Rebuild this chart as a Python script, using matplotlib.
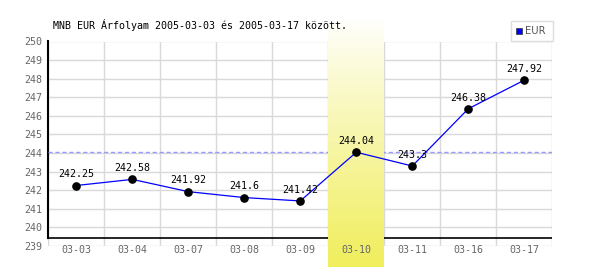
import numpy as np
import matplotlib
matplotlib.use("Agg")
import matplotlib.pyplot as plt

# MNB EUR exchange rate, 2005-03-03 .. 2005-03-17
dates = ["03-03", "03-04", "03-07", "03-08", "03-09", "03-10", "03-11", "03-16", "03-17"]
rates = [242.25, 242.58, 241.92, 241.6, 241.42, 244.04, 243.3, 246.38, 247.92]
value_labels = ["242.25", "242.58", "241.92", "241.6", "241.42", "244.04", "243.3", "246.38", "247.92"]
highlight_idx = 5
ref_level = 244.04
y_ticks = list(range(239, 251))

plt.rcParams['font.family'] = ['DejaVu Sans Mono', 'DejaVu Sans']
FS = 7.2

fig = plt.figure(figsize=(6, 2.7), dpi=100)
W, H = 600, 270
left, right = 48.3, 552.3
top_px, bot_px = 41.5, 245.9
ax = fig.add_axes([left / W, (H - bot_px) / H, (right - left) / W, (bot_px - top_px) / H])

n = len(dates)
x = np.arange(n)

for s in ax.spines.values():
    s.set_visible(False)

# grid
for yv in y_ticks:
    ax.axhline(yv, color="#d9d9d9", lw=1, zorder=0.5)
for xv in np.arange(-0.5, n, 1.0):
    ax.axvline(xv, color="#d9d9d9", lw=1, zorder=0.5)

# axis lines
axis_y = 239.43
ax.axhline(axis_y, color="black", lw=1.2, zorder=1)
ax.plot([-0.5, -0.5], [axis_y, 250], color="black", lw=1.5, zorder=1, clip_on=False)

# reference dashed line
ax.axhline(ref_level, color="#9999ff", lw=1, ls=(0, (3, 2)), zorder=1)

# highlight band with vertical gradient
grad = np.linspace(0, 1, 256).reshape(-1, 1)
top_c = np.array([1.0, 1.0, 1.0])
bot_c = np.array([240, 238, 92]) / 255.0
img = top_c + (bot_c - top_c) * grad[..., None] ** 0.9
img = img.reshape(256, 1, 3)
im = ax.imshow(img, extent=(highlight_idx - 0.5, highlight_idx + 0.5, 237.86, 251.16),
               origin="upper", aspect="auto", zorder=2, interpolation="bilinear")
im.set_clip_on(False)
ax.set_xlim(-0.5, n - 0.5)
ax.set_ylim(239, 250)

# series
ax.plot(x, rates, color="#0000ff", lw=0.9, zorder=3)
ax.plot(x, rates, "o", color="black", ms=5.2, zorder=4)
for xi, yi, lab in zip(x, rates, value_labels):
    ax.annotate(lab, (xi, yi), xytext=(0, 4.5), textcoords="offset points",
                ha="center", va="bottom", fontsize=FS, color="black", zorder=5)

ax.set_yticks(y_ticks)
ax.set_yticklabels([str(v) for v in y_ticks])
ax.set_xticks(x)
ax.set_xticklabels(dates)
ax.tick_params(axis="y", length=0, pad=4, labelsize=FS, labelcolor="#666666")
ax.tick_params(axis="x", length=0, pad=-1, labelsize=FS, labelcolor="#666666")
ax.xaxis.set_zorder(6)
ax.yaxis.set_zorder(6)

fig.text(53 / W, 1 - 25 / H, "MNB EUR Árfolyam 2005-03-03 és 2005-03-17 között.",
         fontsize=FS, ha="left", va="center", color="black")

# legend box
fig.patches.append(plt.Rectangle((511 / W, 1 - 41 / H), 42 / W, 20 / H, transform=fig.transFigure,
                                 facecolor="white", edgecolor="#dddddd", lw=1))
fig.patches.append(plt.Rectangle((516 / W, 1 - 34 / H), 6 / W, 6 / H, transform=fig.transFigure,
                                 facecolor="#0000ff", edgecolor="#333333", lw=0.5))
fig.text(525 / W, 1 - 31 / H, "EUR", fontsize=FS, family="DejaVu Sans", color="#555555",
         ha="left", va="center")

fig.savefig("out.png", dpi=100)
